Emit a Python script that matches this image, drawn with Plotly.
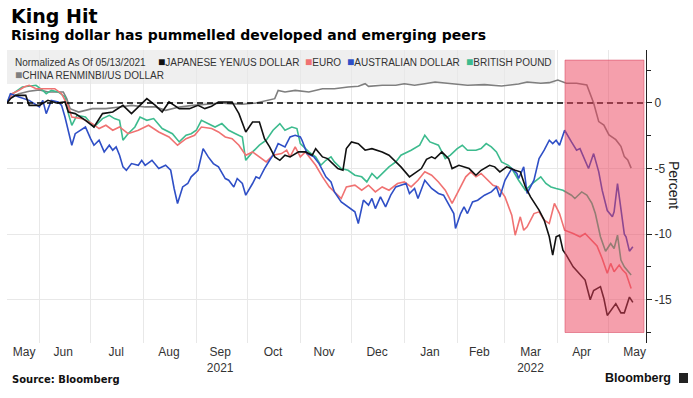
import plotly.graph_objects as go
import pandas as pd

# ---------------- data (day offset from 2021-05-13, percent change) ----------------
START = "2021-05-13"

jpy_day = [0,2,5,11,13,19,24,29,34,36, 40,46,51,56,62,68,73,77,82,87, 91,95,101,107,112,116,120,124,127,132,
           136,140,144,148,151,154,157,160,163,166, 171,175,179,181,185,188,194,197,199,202,
           206,210,214,220,224,228,231,236,239,243, 246,249,251,255,259,261,265,271,275,278,
           283,286,289,293,298,301,304,307,312,315, 318,320,322,324,326,328,332,335,339,342,
           344,348,350,352,355,357,360,362,365,367]
jpy_val = [0,0.33,0.58,0.58,-0.18,-0.18,0.2,0.0,0.08,-0.69, -0.81,-1.32,-1.83,-0.81,-0.69,-0.18,-0.81,-0.3,0.33,-0.18,
           -0.69,0.08,-0.43,-0.43,-0.18,-0.43,-0.25,0.08,0.1,0.08, -0.81,-2.21,-1.45,-1.45,-2.72,-3.35,-4.11,-4.37,-3.98,-4.11,
           -3.73,-3.73,-3.98,-3.48,-4.11,-4.24,-5.0,-5.13,-3.48,-2.97, -3.1,-3.6,-3.48,-3.73,-3.98,-4.49,-4.87,-5.63,-5.38,-5.0,
           -4.3,-4.11,-4.24,-3.73,-4.24,-5.0,-4.75,-5.0,-5.51,-5.13, -4.75,-4.87,-5.25,-4.87,-5.13,-5.25,-6.4,-7.16,-8.17,-8.93,
           -10.2,-11.6,-10.2,-10.08,-11.22,-11.6,-12.49,-12.9,-13.5,-15.0, -14.3,-14.0,-14.9,-16.2,-15.7,-15.3,-16.0,-16.0,-14.8,-15.2]

eur_day = [0,3,7,10,13,17,23,28,32,36, 38,44,50,54,58,62,66,71,77,83, 89,95,100,105,110,114,120,124,128,132,
           136,140,144,148,152,156,161,164,166,169, 172,175,178,181,185,189,193,196,199,204,
           208,212,216,220,224,229,233,237,241,245, 249,253,257,261,265,269,272,275,278,282,
           285,288,292,296,298,301,303,305,309,312, 315,318,321,324,327,332,336,339,342,346,
           349,352,354,356,359,361,363,366]
eur_val = [0,0.71,0.96,1.22,1.35,1.09,1.09,1.09,0.71,-0.3, -1.07,-1.19,-1.57,-1.95,-1.7,-2.08,-1.83,-2.34,-2.08,-1.7,
           -2.21,-2.59,-3.22,-2.72,-2.46,-1.83,-1.95,-2.21,-2.59,-2.72, -3.22,-3.98,-3.73,-4.11,-4.49,-3.98,-3.86,-3.6,-4.11,-3.35,
           -4.11,-3.73,-4.24,-4.75,-5.63,-6.4,-6.9,-7.28,-6.4,-6.27, -6.65,-6.27,-6.78,-6.4,-6.65,-6.14,-6.02,-6.4,-5.89,-5.25,
           -5.51,-6.02,-6.65,-7.66,-6.65,-5.63,-5.25,-5.63,-5.38,-5.89, -6.27,-6.4,-7.16,-8.55,-10.08,-8.68,-9.7,-9.44,-8.43,-8.3,
           -8.93,-9.19,-7.66,-8.43,-9.7,-9.95,-10.2,-9.95,-10.33,-10.9, -11.85,-12.99,-12.23,-12.87,-12.36,-12.74,-12.99,-14.14]

aud_day = [0,2,7,13,19,21,23,26,30,32, 34,36,38,40,46,49,51,54,57,60, 62,64,66,68,70,73,77,79,81,85,
           89,93,96,98,100,103,106,108,112,115, 118,121,124,128,130,133,135,138,140,144,
           146,148,151,154,156,159,163,166,169,172, 173,176,180,183,187,190,192,196,201,204,
           206,209,212,214,216,219,222,225,228,231, 234,236,239,241,245,249,253,256,259,262,
           263,266,268,270,273,276,280,284,287,289, 292,296,299,300,303,305,309,312,315,318,
           320,322,324,327,331,334,336,338,341,344, 347,349,352,355,356,358,360,362,363,365,367]
aud_val = [0,0.71,0.46,0.2,-0.3,0.2,-0.81,0.2,0.08,-0.18, -1.07,-2.08,-3.22,-2.34,-1.83,-2.72,-3.22,-2.84,-3.73,-3.22,
           -3.6,-3.35,-3.98,-4.87,-5.13,-4.62,-4.75,-4.37,-4.75,-4.37, -5.0,-4.75,-5.13,-6.52,-7.66,-6.4,-6.14,-5.63,-5.13,-3.48,
           -4.11,-4.62,-4.87,-5.76,-5.89,-6.4,-5.76,-6.14,-7.03,-6.14, -5.63,-5.76,-5.0,-4.37,-3.98,-3.1,-3.35,-2.59,-2.46,-2.59,
           -2.84,-3.86,-4.11,-4.62,-5.63,-6.02,-6.78,-7.54,-8.05,-8.3, -9.19,-7.41,-7.79,-7.28,-8.05,-7.16,-7.92,-7.03,-6.4,-6.27,
           -6.14,-6.9,-6.52,-7.28,-5.89,-6.52,-6.9,-7.03,-7.79,-8.43, -9.57,-8.43,-7.92,-8.43,-7.54,-7.41,-7.03,-6.78,-6.4,-7.16,
           -5.89,-5.0,-5.38,-5.76,-4.87,-6.9,-5.89,-4.24,-3.6,-2.84, -3.1,-2.84,-3.22,-2.08,-2.97,-3.6,-3.48,-4.11,-5.0,-3.86,
           -5.25,-6.65,-8.2,-8.68,-8.3,-6.14,-8.05,-10.0,-10.2,-11.3,-10.96]

gbp_day = [0,2,9,17,21,23,26,30,34,36, 38,41,46,51,56,60,63,66,68,71, 75,78,82,86,91,97,101,105,108,111,
           114,118,122,126,130,134,138,140,144,148, 152,156,160,163,167,170,172,177,181,184,
           187,190,192,196,200,204,208,211,214,217, 220,224,228,231,237,242,245,248,253,257,
           260,264,267,270,275,278,281,284,287,290, 294,296,300,304,308,313,316,319,322,326,
           331,333,337,340,343,345,348,351,354,356, 358,360,362,366]
gbp_val = [0,0.58,1.22,1.35,0.96,0.71,0.96,0.84,0.46,-0.81, -1.7,-0.94,-1.07,-1.83,-1.19,-0.94,-1.19,-1.32,-2.84,-2.34,
           -1.83,-1.07,-1.32,-1.19,-1.95,-2.34,-2.97,-2.46,-2.34,-2.08, -1.32,-1.57,-1.83,-1.57,-2.08,-2.34,-2.59,-4.37,-3.73,-3.22,
           -2.84,-2.08,-1.57,-2.08,-1.83,-1.95,-3.1,-3.73,-4.11,-4.75, -4.37,-4.11,-4.49,-5.0,-5.13,-5.51,-5.63,-6.02,-5.38,-5.76,
           -5.38,-4.87,-4.49,-3.98,-3.6,-3.22,-2.46,-2.97,-3.22,-4.24, -3.98,-3.48,-3.22,-3.6,-3.6,-3.48,-3.1,-3.35,-3.73,-4.49,
           -4.75,-5.0,-5.89,-6.65,-6.14,-5.63,-6.14,-6.4,-6.52,-6.65, -7.03,-7.28,-6.78,-7.03,-7.66,-8.43,-10.2,-11.3,-10.71,-11.09,
           -10.08,-11.98,-12.49,-13.12]

cny_day = [0,2,7,13,19,24,33,35,37,42, 50,58,66,73,81,87,93,101,109,116, 126,130,138,146,153,157,159,163,169,177,
           185,192,200,206,210,212,220,228,233,239, 245,251,261,270,280,290,300,305,313,318,
           323,328,334,340,344,347,350,353,357,360, 362,364,366]
cny_val = [0,0.4,0.7,0.9,1.0,0.84,0.84,0.33,-0.43,-0.69, -0.43,-0.43,-0.3,-0.18,-0.3,-0.3,-0.56,-0.3,-0.18,-0.1,
           0.0,-0.05,-0.1,0.0,0.2,0.33,0.96,0.84,0.96,0.84, 1.09,1.09,1.22,1.27,1.47,1.27,1.35,1.35,1.47,1.35,
           1.47,1.6,1.47,1.35,1.4,1.3,1.45,1.6,1.5,1.55, 1.75,1.5,1.5,1.37,0.0,-1.42,-1.68,-2.44,-2.8,-3.3,
           -4.09,-4.34,-4.97]

series_names = ["JAPANESE YEN/US DOLLAR", "EURO", "AUSTRALIAN DOLLAR", "BRITISH POUND", "CHINA RENMINBI/US DOLLAR"]
series_colors = ["#111111", "#f07272", "#2f4fc6", "#3dbb8e", "#7f7f7f"]

tick_dates = ["2021-05-23", "2021-06-15", "2021-07-16", "2021-08-16", "2021-09-15", "2021-10-16",
              "2021-11-15", "2021-12-16", "2022-01-16", "2022-02-14", "2022-03-16", "2022-04-15", "2022-05-16"]
tick_text = ["May", "Jun", "Jul", "Aug", "Sep<br>2021", "Oct", "Nov", "Dec", "Jan", "Feb", "Mar<br>2022", "Apr", "May"]

y_ticks = [-15, -10, -5, 0]
y_ticktext = ["-15", "-10", "-5", "0"]

highlight_start = "2022-04-05 05:00"
highlight_end = "2022-05-21 12:00"
highlight_low, highlight_high = -17.5, 3.27

# ---------------- layout helpers ----------------
W, H = 693, 398
L, R, T, B = 7, 646, 50, 343


def px(x):
    return (x - L) / (R - L)


def py(y):
    return (B - y) / (B - T)


def to_dates(days):
    base = pd.Timestamp(START)
    return [base + pd.Timedelta(days=d) for d in days]


SANS = "Liberation Sans, Arial, sans-serif"
DEJAVU = "DejaVu Sans, Verdana, sans-serif"

fig = go.Figure()

data = {
    "JAPANESE YEN/US DOLLAR": (jpy_day, jpy_val),
    "EURO": (eur_day, eur_val),
    "AUSTRALIAN DOLLAR": (aud_day, aud_val),
    "BRITISH POUND": (gbp_day, gbp_val),
    "CHINA RENMINBI/US DOLLAR": (cny_day, cny_val),
}
color_of = dict(zip(series_names, series_colors))
for name in ["CHINA RENMINBI/US DOLLAR", "BRITISH POUND", "EURO", "AUSTRALIAN DOLLAR", "JAPANESE YEN/US DOLLAR"]:
    d, v = data[name]
    fig.add_trace(go.Scatter(x=to_dates(d), y=v, mode="lines", name=name,
                             line=dict(color=color_of[name], width=1.6), showlegend=False,
                             hoverinfo="skip"))

shapes = [
    # legend band
    dict(type="rect", xref="paper", yref="paper", x0=0, x1=px(555), y0=py(84), y1=1.0,
         fillcolor="#efefef", line=dict(width=0), layer="below"),
    # zero line
    dict(type="line", xref="paper", yref="y", x0=0, x1=1, y0=0, y1=0,
         line=dict(color="#000000", width=1.5, dash="6px,4px"), layer="above"),
    # highlight
    dict(type="rect", xref="x", yref="y", x0=highlight_start, x1=highlight_end,
         y0=highlight_low, y1=highlight_high, fillcolor="rgba(236,64,90,0.5)",
         line=dict(color="rgba(215,70,95,0.55)", width=1), layer="above"),
    # bloomberg icon
    dict(type="rect", xref="paper", yref="paper", x0=px(679), x1=px(688), y0=py(383), y1=py(373),
         fillcolor="#222222", line=dict(width=0)),
]

ann = []
ann.append(dict(text="<b>King Hit</b>", x=px(9), y=py(16), xanchor="left", yanchor="middle",
                font=dict(family=DEJAVU, size=19, color="#000")))
ann.append(dict(text="<b>Rising dollar has pummelled developed and emerging peers</b>", x=px(9), y=py(35),
                xanchor="left", yanchor="middle", font=dict(family=DEJAVU, size=14, color="#000")))

leg_font = dict(family=SANS, size=10, color="#333")
ann.append(dict(text="Normalized As Of 05/13/2021", x=px(13), y=py(62), xanchor="left", yanchor="middle",
                font=leg_font))
leg_pos = [(series_names[0], 156, 62), (series_names[1], 303, 62), (series_names[2], 345, 62),
           (series_names[3], 464, 62), (series_names[4], 13, 75)]
for name, lx, ly in leg_pos:
    ann.append(dict(text=f'<span style="color:{color_of[name]};font-size:12px">■</span>{name}',
                    x=px(lx), y=py(ly), xanchor="left", yanchor="middle", font=leg_font))

ann.append(dict(text="Percent", x=px(674), y=py(185), textangle=90, xanchor="center", yanchor="middle",
                font=dict(family=SANS, size=14, color="#222")))
ann.append(dict(text="<b>Source: Bloomberg</b>", x=px(10), y=py(380), xanchor="left", yanchor="middle",
                font=dict(family=DEJAVU, size=10, color="#111")))
ann.append(dict(text="<b>Bloomberg</b>", x=px(673), y=py(378), xanchor="right", yanchor="middle",
                font=dict(family=SANS, size=12.5, color="#111")))
for a in ann:
    a.update(xref="paper", yref="paper", showarrow=False)

fig.update_layout(
    width=W, height=H,
    margin=dict(l=L, r=W - R, t=T, b=H - B),
    paper_bgcolor="white", plot_bgcolor="white",
    shapes=shapes, annotations=ann,
    xaxis=dict(type="date", range=["2021-05-13", "2022-05-22 17:00"],
               tickvals=tick_dates, ticktext=tick_text, ticks="", showgrid=False,
               showline=False, zeroline=False,
               tickfont=dict(family=SANS, size=12, color="#333"),
               minor=dict(dtick="M1", tick0="2021-06-01", showgrid=True, gridcolor="#e8e8e8",
                          gridwidth=1, ticks="")),
    yaxis=dict(side="right", range=[-18.3, 4.04], tickvals=y_ticks, ticktext=y_ticktext,
               showgrid=True, gridcolor="#e8e8e8", gridwidth=1, zeroline=False,
               showline=True, linecolor="#222", linewidth=1,
               ticks="outside", ticklen=5, tickcolor="#222",
               tickfont=dict(family=SANS, size=12, color="#333"),
               minor=dict(dtick=2.5, tick0=0, ticks="outside", ticklen=4, tickcolor="#222", showgrid=False)),
    showlegend=False,
)

fig.write_html("out.html", config={"displayModeBar": False},
               post_script="document.body.style.margin='0';document.body.style.padding='0';")
